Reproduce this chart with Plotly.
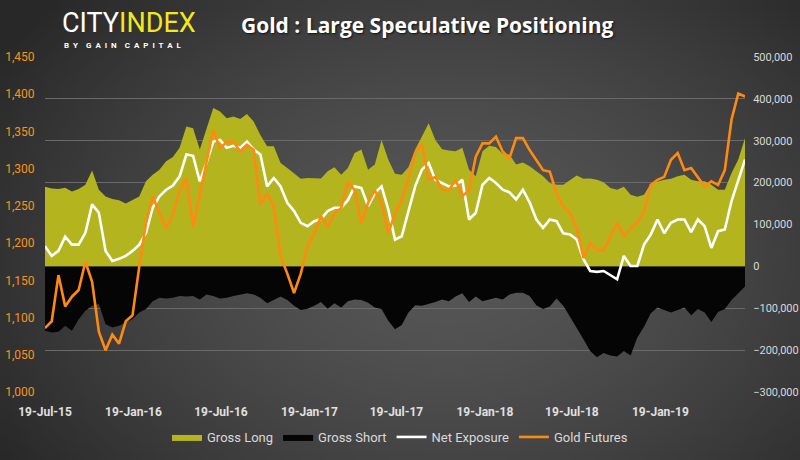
import base64, struct, zlib, math
import pandas as pd
import plotly.graph_objects as go

# ---------------- data (bi-weekly readings) ----------------
dates = pd.date_range("2015-07-19", periods=105, freq="14D")

gross_long = [
    190000, 186000, 185000, 188000, 179000, 185000, 195000, 229000, 183000, 167000, 161000, 158000, 150000,
    158000, 167000, 203000, 219000, 231000, 251000, 261000, 283000, 334000, 330000, 279000, 326000, 378000,
    370000, 354000, 358000, 352000, 364000, 346000, 314000, 287000, 287000, 247000, 235000, 223000, 209000,
    211000, 211000, 210000, 227000, 237000, 219000, 235000, 271000, 279000, 231000, 243000, 302000, 255000,
    221000, 219000, 237000, 279000, 310000, 342000, 302000, 280000, 277000, 275000, 283000, 231000, 215000,
    275000, 288000, 285000, 269000, 267000, 243000, 248000, 239000, 227000, 215000, 199000, 195000, 195000,
    207000, 217000, 209000, 210000, 207000, 201000, 187000, 183000, 190000, 171000, 166000, 171000, 198000,
    203000, 207000, 209000, 215000, 219000, 207000, 203000, 203000, 195000, 183000, 183000, 223000, 255000, 306000,
]

gross_short = [
    -154000, -158000, -156000, -142000, -154000, -126000, -106000, -94000, -90000, -138000, -146000, -142000, -134000,
    -126000, -110000, -102000, -83000, -75000, -77000, -75000, -71000, -72000, -71000, -79000, -67000, -71000,
    -77000, -75000, -71000, -67000, -64000, -67000, -75000, -88000, -80000, -72000, -80000, -94000, -104000,
    -101000, -94000, -85000, -101000, -88000, -98000, -83000, -79000, -80000, -87000, -98000, -102000, -130000,
    -150000, -140000, -110000, -93000, -94000, -90000, -85000, -79000, -83000, -72000, -64000, -85000, -72000,
    -83000, -79000, -75000, -79000, -67000, -63000, -63000, -71000, -93000, -102000, -96000, -77000, -94000,
    -120000, -146000, -174000, -202000, -217000, -207000, -213000, -215000, -202000, -213000, -170000, -144000, -112000,
    -98000, -104000, -110000, -104000, -98000, -117000, -102000, -110000, -133000, -109000, -102000, -80000, -64000, -48000,
]

net_exposure = [
    48000, 25000, 37000, 71000, 52000, 52000, 80000, 148000, 128000, 37000, 13000, 18000, 25000,
    37000, 52000, 80000, 140000, 167000, 183000, 193000, 215000, 267000, 264000, 203000, 247000, 298000,
    302000, 283000, 288000, 283000, 298000, 279000, 267000, 191000, 211000, 191000, 152000, 132000, 104000,
    96000, 108000, 113000, 132000, 140000, 140000, 158000, 191000, 187000, 144000, 175000, 191000, 136000,
    64000, 72000, 132000, 191000, 231000, 247000, 207000, 198000, 191000, 193000, 207000, 112000, 128000,
    195000, 211000, 199000, 183000, 177000, 160000, 183000, 153000, 112000, 92000, 112000, 108000, 79000,
    76000, 64000, 17000, -11000, -13000, -11000, -21000, -31000, 25000, 1000, 1000, 52000, 76000,
    112000, 79000, 104000, 112000, 112000, 82000, 112000, 96000, 44000, 84000, 88000, 156000, 207000, 255000,
]

gold_futures = [
    1086, 1095, 1157, 1115, 1128, 1137, 1175, 1148, 1081, 1056, 1077, 1065, 1095,
    1103, 1168, 1227, 1263, 1240, 1220, 1238, 1271, 1287, 1222, 1267, 1312, 1352,
    1327, 1336, 1336, 1323, 1332, 1325, 1251, 1267, 1249, 1182, 1159, 1133, 1159,
    1195, 1213, 1236, 1222, 1240, 1247, 1283, 1271, 1227, 1254, 1271, 1254, 1213,
    1240, 1258, 1287, 1321, 1334, 1285, 1289, 1271, 1271, 1285, 1263, 1271, 1316,
    1334, 1334, 1343, 1323, 1314, 1341, 1341, 1325, 1312, 1298, 1296, 1267, 1249,
    1240, 1220, 1180, 1200, 1191, 1190, 1209, 1227, 1209, 1220, 1227, 1242, 1278,
    1285, 1289, 1312, 1321, 1298, 1301, 1289, 1276, 1283, 1278, 1298, 1366, 1401, 1397,
]

tick_dates = ["2015-07-19", "2016-01-19", "2016-07-19", "2017-01-19",
              "2017-07-19", "2018-01-19", "2018-07-19", "2019-01-19"]
tick_labels = ["19-Jul-15", "19-Jan-16", "19-Jul-16", "19-Jan-17",
               "19-Jul-17", "19-Jan-18", "19-Jul-18", "19-Jan-19"]

# ---------------- styling ----------------
W, H = 800, 460
ML, MR, MT, MB = 45, 55, 57, 68
PW, PH = W - ML - MR, H - MT - MB
FONT = "Roboto, sans-serif"


def px_x(px):
    return (px - ML) / PW


def px_y(py):
    return (H - MB - py) / PH


def gradient_png(w=200, h=115):
    rows = []
    for j in range(h):
        row = bytearray([0])
        for i in range(w):
            dx = (i / (w - 1) - 0.56) / 0.62
            dy = (j / (h - 1) - 0.55) / 0.78
            d = math.sqrt(dx * dx + dy * dy)
            v = int(max(40, 87 - 42 * d ** 1.5))
            row += bytes([v, v, v])
        rows.append(bytes(row))
    raw = b"".join(rows)

    def chunk(t, data):
        return struct.pack(">I", len(data)) + t + data + struct.pack(">I", zlib.crc32(t + data) & 0xffffffff)

    png = (b"\x89PNG\r\n\x1a\n" + chunk(b"IHDR", struct.pack(">IIBBBBB", w, h, 8, 2, 0, 0, 0))
           + chunk(b"IDAT", zlib.compress(raw)) + chunk(b"IEND", b""))
    return "data:image/png;base64," + base64.b64encode(png).decode()


fig = go.Figure()
fig.add_trace(go.Scatter(x=dates, y=gross_long, name="Gross Long", mode="lines",
                         line=dict(width=0, color="#b4b41f"), fill="tozeroy",
                         fillcolor="#b4b41f", yaxis="y"))
fig.add_trace(go.Scatter(x=dates, y=gross_short, name="Gross Short", mode="lines",
                         line=dict(width=0, color="#050505"), fill="tozeroy",
                         fillcolor="#050505", yaxis="y"))
fig.add_trace(go.Scatter(x=dates, y=net_exposure, name="Net Exposure", mode="lines",
                         line=dict(width=2.6, color="#ffffff"), yaxis="y"))
fig.add_trace(go.Scatter(x=dates, y=gold_futures, name="Gold Futures", mode="lines",
                         line=dict(width=2.6, color="#ff8a12"), yaxis="y2"))

fig.update_layout(
    width=W, height=H,
    margin=dict(l=ML, r=MR, t=MT, b=MB, autoexpand=False),
    paper_bgcolor="#3a3a3a",
    plot_bgcolor="rgba(0,0,0,0)",
    showlegend=True,
    legend=dict(orientation="h", x=0.5, xref="container", xanchor="center",
                y=1 - 437 / H, yref="container", yanchor="middle",
                font=dict(family=FONT, size=13, color="#d9d9d9"),
                bgcolor="rgba(0,0,0,0)", itemwidth=30),
    xaxis=dict(type="date", range=[dates[0], dates[-1]], showgrid=False, zeroline=False,
               tickvals=tick_dates, ticktext=tick_labels, automargin=False,
               ticks="outside", ticklen=9, tickcolor="rgba(0,0,0,0)",
               tickfont=dict(family=FONT, size=12, color="#e0e0e0", weight="bold"),
               showline=False),
    yaxis=dict(side="right", range=[-300000, 500000], dtick=100000, tickformat=",",
               showgrid=True, gridcolor="#6a6a6a", gridwidth=1, zeroline=False, automargin=False,
               ticks="outside", ticklen=5, tickcolor="rgba(0,0,0,0)",
               tickfont=dict(family=FONT, size=11, color="#d8d8d8")),
    yaxis2=dict(overlaying="y", side="left", range=[1000, 1450], dtick=50, tickformat=",",
                showgrid=False, zeroline=False, automargin=False,
                ticks="outside", ticklen=7, tickcolor="rgba(0,0,0,0)",
                tickfont=dict(family=FONT, size=12, color="#f7941d")),
    images=[dict(source=gradient_png(), xref="paper", yref="paper",
                 x=px_x(0), y=px_y(0), sizex=W / PW, sizey=H / PH,
                 xanchor="left", yanchor="top", sizing="stretch", layer="below")],
    annotations=[
        dict(text="Gold : Large Speculative Positioning", xref="paper", yref="paper",
             x=px_x(427), y=px_y(25), xanchor="center", yanchor="middle", showarrow=False,
             font=dict(family="Open Sans, sans-serif", size=21, color="#ffffff", weight="bold",
                       shadow="1px 1px 2px #111")),
        dict(text="CITY<span style='color:#f4e81c'>INDEX</span>", xref="paper", yref="paper",
             x=px_x(60), y=px_y(23), xanchor="left", yanchor="middle", showarrow=False,
             font=dict(family=FONT, size=27, color="#ffffff")),
        dict(text="B  Y    G  A  I  N    C  A  P  I  T  A  L", xref="paper", yref="paper",
             x=px_x(62), y=px_y(45), xanchor="left", yanchor="middle", showarrow=False,
             font=dict(family=FONT, size=8, color="#ffffff", weight="bold")),
    ],
)

fig.write_html("out.html", post_script="document.body.style.margin='0';",
               config={"displayModeBar": False})
